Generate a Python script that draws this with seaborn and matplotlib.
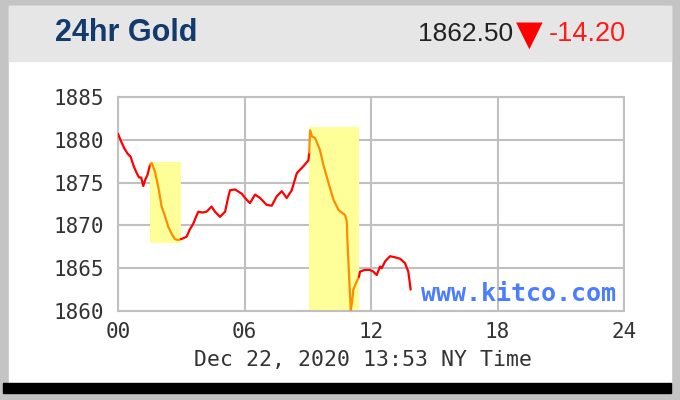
import matplotlib
matplotlib.use("Agg")
import matplotlib.pyplot as plt
import seaborn as sns
import pandas as pd
from matplotlib.patches import Rectangle

# ---------------- data ----------------
hours = [0.00, 0.15, 0.30, 0.45, 0.60, 0.75, 0.89, 1.00, 1.10, 1.20, 1.30, 1.40, 1.52,
         1.60, 1.75, 1.91, 2.07, 2.20, 2.39, 2.55, 2.70, 2.85, 2.99,
         3.10, 3.26, 3.40, 3.57, 3.70, 3.81, 4.00, 4.20, 4.44, 4.60, 4.84, 5.08, 5.20,
         5.31, 5.55, 5.87, 6.10, 6.26, 6.50, 6.74, 7.05, 7.29, 7.53, 7.77, 8.00, 8.24,
         8.48, 8.79, 9.03, 9.07,
         9.11, 9.20, 9.35, 9.58, 9.75, 9.90, 10.05, 10.22, 10.46, 10.77, 10.85, 10.88,
         10.97, 11.04, 11.10, 11.16, 11.35, 11.43,
         11.48, 11.70, 11.95, 12.11, 12.27, 12.43, 12.51, 12.67, 12.90, 13.10, 13.38,
         13.61, 13.77, 13.88]
prices = [1880.7, 1879.8, 1879.0, 1878.4, 1878.0, 1876.9, 1876.1, 1875.6, 1875.6, 1874.6, 1875.4, 1875.9, 1877.1,
          1877.3, 1876.3, 1874.5, 1872.2, 1871.3, 1869.8, 1869.0, 1868.4, 1868.3, 1868.4,
          1868.5, 1868.7, 1869.5, 1870.2, 1871.0, 1871.6, 1871.5, 1871.6, 1872.2, 1871.6, 1871.0, 1871.6, 1873.0,
          1874.1, 1874.2, 1873.7, 1873.0, 1872.6, 1873.6, 1873.2, 1872.4, 1872.3, 1873.4, 1874.0, 1873.2, 1874.1,
          1876.1, 1876.9, 1877.6, 1878.5,
          1881.1, 1880.4, 1880.2, 1878.8, 1877.0, 1875.7, 1874.4, 1873.0, 1871.8, 1871.2, 1870.5, 1868.3,
          1863.6, 1860.1, 1861.0, 1862.5, 1863.6, 1864.0,
          1864.6, 1864.8, 1864.8, 1864.6, 1864.2, 1865.2, 1865.0, 1865.8, 1866.4, 1866.3, 1866.1,
          1865.6, 1864.6, 1862.5]

# highlighted windows
hl_start = [1.52, 9.07]
hl_end = [2.99, 11.43]
hl_low = [1867.9, 1860.0]
hl_high = [1877.4, 1881.5]

y_ticks = [1860, 1865, 1870, 1875, 1880, 1885]
x_ticks = [0, 6, 12, 18, 24]
x_labels = ["00", "06", "12", "18", "24"]

title = "24hr Gold"
last_price = "1862.50"
change = "-14.20"
date_label = "Dec 22, 2020 13:53 NY Time"
watermark = "www.kitco.com"

# ---------------- figure ----------------
sns.set_theme(style="white")
plt.rcParams['font.family'] = ['DejaVu Sans Mono', 'DejaVu Sans']

W, H = 680, 400
fig = plt.figure(figsize=(6.8, 4.0), dpi=100, facecolor="#c4c4c4")

def fr(x0, y0, x1, y1, color):
    # pixel box (top-left origin) -> figure rectangle
    fig.patches.append(Rectangle((x0 / W, 1 - y1 / H), (x1 - x0) / W, (y1 - y0) / H,
                                 transform=fig.transFigure, color=color, zorder=-10))

fr(9, 6, 671, 383, "white")
fr(9, 6, 671, 61, "#e6e6e6")
fr(3, 383, 671, 393, "black")

ax = fig.add_axes([118 / W, 1 - 311 / H, (624 - 118) / W, (311 - 97) / H])
ax.set_zorder(5)
ax.set_facecolor("white")

# highlight boxes
for s, e, lo, hi in zip(hl_start, hl_end, hl_low, hl_high):
    ax.fill_between([s, e], [lo, lo], [hi, hi], color="#ffff99", lw=0, zorder=1)

# segments colored by whether they fall in highlight windows
df = pd.DataFrame({"h": hours, "p": prices})
def in_hl(h):
    return any(s <= h <= e for s, e in zip(hl_start, hl_end))

segs = []
cur = [0]
cur_state = None
for i in range(1, len(hours)):
    mid = (hours[i - 1] + hours[i]) / 2
    st = in_hl(mid)
    if cur_state is None or st == cur_state:
        cur.append(i)
        cur_state = st
    else:
        segs.append((cur, cur_state))
        cur = [i - 1, i]
        cur_state = st
segs.append((cur, cur_state))

for idx, st in segs:
    sub = df.iloc[idx]
    sns.lineplot(data=sub, x="h", y="p", ax=ax, sort=False, estimator=None,
                 color="#ff8c00" if st else "#ff0000", lw=1.6, zorder=3)

ax.set_xlim(0, 24)
ax.set_ylim(1860, 1885)
ax.set_xticks(x_ticks)
ax.set_xticklabels(x_labels)
ax.set_yticks(y_ticks)
ax.set_yticklabels([str(v) for v in y_ticks])
ax.grid(True, color="#c0c0c0", lw=1.5, zorder=0)
ax.set_axisbelow(True)
for sp in ax.spines.values():
    sp.set_color("#c0c0c0")
    sp.set_linewidth(1.5)
ax.tick_params(axis="both", length=0, labelsize=15, colors="#333333")
ax.tick_params(axis="x", pad=8)
ax.tick_params(axis="y", pad=10)
ax.set_xlabel("")
ax.set_ylabel("")

ax.text(0.985, 0.025, watermark, transform=ax.transAxes, ha="right", va="bottom",
        fontsize=18, fontweight="bold", color="#4a7dff", family="DejaVu Sans Mono", zorder=4)

fig.text(363 / W, 1 - 360 / H, date_label, ha="center", va="center",
         fontsize=15.5, color="#333333")

# header
fig.text(55 / W, 1 - 33 / H, title, ha="left", va="center", fontsize=22,
         fontweight="bold", color="#123a6b", family="Liberation Sans")
fig.text(626 / W, 1 - 34 / H, change, ha="right", va="center", fontsize=19.5,
         color="#ff1a1a", family="Liberation Sans")
fig.text(529 / W, 1 - 35 / H, "\u25BC", ha="center", va="center", fontsize=25,
         color="#ff0000", family="DejaVu Sans")
fig.text(513 / W, 1 - 34 / H, last_price, ha="right", va="center", fontsize=19,
         color="#222222", family="Liberation Sans")

fig.savefig("out.png", dpi=100, facecolor=fig.get_facecolor())
